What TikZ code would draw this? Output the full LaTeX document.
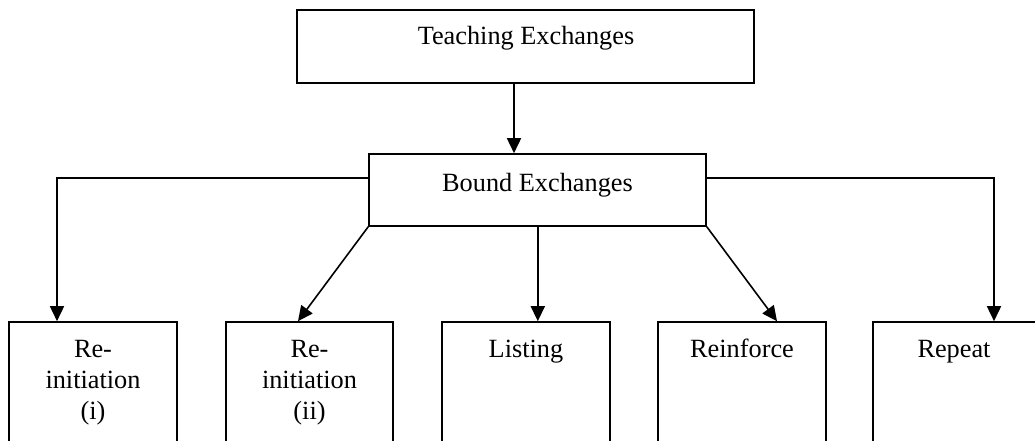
\documentclass[tikz,border=0pt]{standalone}
\usepackage{fontspec}
\setmainfont{Liberation Serif}
\usetikzlibrary{arrows.meta,calc}
\begin{document}
\begin{tikzpicture}[x=1pt,y=-1pt,
  box/.style={draw,line width=1.6pt,inner sep=0pt},
  leaf/.style={box,minimum width=168pt,minimum height=160pt},
  lbl/.style={font=\fontsize{26.3}{31}\selectfont,align=center,anchor=base,inner sep=0pt},
  conn/.style={line width=1.6pt,-{Triangle[width=14pt,length=15pt]}}]
\useasboundingbox (0,0) rectangle (1035,441);
\clip (0,0) rectangle (1035,441);

% top level
\node[box,minimum width=457pt,minimum height=73pt] (teach) at (525.5,46.5) {};
\node[lbl] (teachT) at (526,45) {Teaching Exchanges};

% second level
\node[box,minimum width=337pt,minimum height=72pt] (bound) at (537.5,190) {};
\node[lbl] (boundT) at (537.5,191) {Bound Exchanges};

% leaves (open at the bottom edge)
\node[leaf] (r1) at (93,402) {};
\node[leaf,minimum width=167pt] (r2) at (309.5,402) {};
\node[leaf] (r3) at (526,402) {};
\node[leaf] (r4) at (742,402) {};
\node[leaf] (r5) at (957,402) {};

% multi-line labels sit on the baseline of their last line
\node[lbl] (r1T) at (93,419) {Re-\\initiation\\(i)};
\node[lbl] (r2T) at (309.5,419) {Re-\\initiation\\(ii)};
\node[lbl] (r3T) at (526,357) {Listing};
\node[lbl] (r4T) at (742,357) {Reinforce};
\node[lbl] (r5T) at (954,357) {Repeat};

% connectors
\draw[conn] ([xshift=-11.5pt]teach.south) -- ([xshift=-11.5pt]teach.south |- bound.north);
\draw[conn] ([yshift=12pt]bound.west) -| ([xshift=-36pt]r1.north);
\draw[conn] ([yshift=12pt]bound.east) -| ([xshift=37pt]r5.north);
\draw[conn] (bound.south west) -- ([xshift=-11.5pt]r2.north);
\draw[conn] ([xshift=0.3pt]bound.south) -- ([xshift=0.3pt]bound.south |- r3.north);
\draw[conn] (bound.south east) -- ([xshift=35pt]r4.north);
\end{tikzpicture}
\end{document}
